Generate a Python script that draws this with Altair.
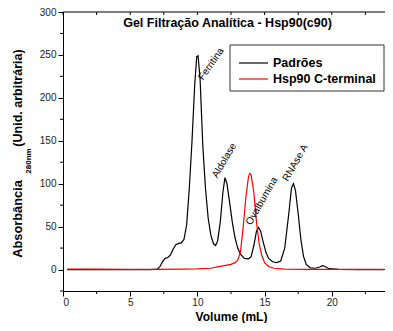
import altair as alt
import pandas as pd

FONT = "Liberation Sans"

# Padrões (standards) chromatogram
std_x = [0.3, 1, 3, 5, 6.5, 7.0, 7.2, 7.4, 7.6, 7.8, 8.0, 8.2, 8.4, 8.6, 8.8, 9.0, 9.2, 9.4, 9.6, 9.8,
         9.95, 10.05, 10.2, 10.4, 10.6, 10.8, 11.0, 11.2, 11.35, 11.5, 11.7, 11.9, 12.05, 12.2, 12.4,
         12.6, 12.8, 13.0, 13.2, 13.5, 13.8, 14.0, 14.2, 14.4, 14.55, 14.7, 14.9, 15.1, 15.3, 15.6,
         15.9, 16.2, 16.5, 16.8, 17.0, 17.15, 17.3, 17.5, 17.7, 17.9, 18.1, 18.4, 18.8, 19.1, 19.3,
         19.5, 19.8, 20.5, 22, 23.9]
std_y = [0, 0, 0, 0, 0, 0.5, 3, 9, 13, 14, 17, 24, 29, 30.5, 31, 35, 52, 95, 150, 215,
         248, 249, 222, 145, 95, 60, 40, 30, 28, 33, 55, 90, 107, 100, 78,
         55, 37, 25, 18, 13, 12.5, 15, 28, 45, 49, 45, 32, 20, 13, 9,
         8, 10, 25, 65, 95, 100, 92, 65, 35, 15, 6, 2, 1.5, 3, 4.5,
         3.5, 1, 0.3, 0, 0]

# Hsp90 C-terminal chromatogram
hsp_x = [0.3, 2, 5, 7, 9, 10, 11, 11.5, 12, 12.5, 12.8, 13.0, 13.2, 13.4, 13.6, 13.8, 13.9, 14.0,
         14.2, 14.4, 14.6, 14.8, 15.0, 15.3, 15.7, 16.5, 18, 20, 24.6]
hsp_y = [0.5, 0.5, 0.3, 0.3, 0.5, 0.8, 1.5, 3, 4.5, 6, 8, 11, 20, 48, 83, 108, 112, 110,
         90, 55, 30, 16, 8, 3.5, 1.5, 0.5, 0.3, 0.3, 0.3]

series_names = ["Padrões", "Hsp90 C-terminal"]
series_colors = ["#000000", "#ff0000"]

peak_names = ["Ferritina", "Aldolase", "Ovalbumina", "RNAse A"]
peak_x = [10.42, 11.48, 13.99, 16.72]
peak_y = [220, 106, 51, 102]
peak_angle = [305, 300, 300, 300]

x_major = [0, 5, 10, 15, 20]
x_minor = [2.5, 7.5, 12.5, 17.5, 22.5]
x_top = [0, 2.5, 5, 7.5, 10, 12.5, 15, 17.5, 20, 22.5]
y_major = [0, 50, 100, 150, 200, 250, 300]
y_minor = [-25, 25, 75, 125, 175, 225, 275]

title_text = "Gel Filtração Analítica - Hsp90(c90)"

W, H = 322, 279

xs = alt.Scale(domain=[0, 23.96], nice=False, zero=False)
ys = alt.Scale(domain=[-25, 300], nice=False, zero=False)

df_std = pd.DataFrame({"v": std_x, "a": std_y})
df_hsp = pd.DataFrame({"v": hsp_x, "a": hsp_y})
df_peaks = pd.DataFrame({"v": peak_x, "a": peak_y, "name": peak_names, "ang": peak_angle})

xaxis = alt.Axis(
    values=x_major, title="Volume (mL)", grid=False, labelOverlap=False, tickSize=5,
    labelPadding=1, titleY=29.5, titleBaseline="alphabetic", titleX=168, titleFontSize=12,
)
yaxis = alt.Axis(
    values=y_major, title=None, grid=False, labelOverlap=False, tickSize=5, labelPadding=2,
)

black = alt.Chart(df_std).mark_line(color=series_colors[0], strokeWidth=1.2, clip=True).encode(
    x=alt.X("v:Q", scale=xs, axis=xaxis),
    y=alt.Y("a:Q", scale=ys, axis=yaxis),
)
red = alt.Chart(df_hsp).mark_line(color=series_colors[1], strokeWidth=1.2, clip=True).encode(
    x=alt.X("v:Q", scale=xs),
    y=alt.Y("a:Q", scale=ys),
)

labels = alt.Chart(df_peaks).mark_text(
    align="left", baseline="alphabetic", fontSize=10, font=FONT, color="#000"
).encode(
    x=alt.X("v:Q", scale=xs), y=alt.Y("a:Q", scale=ys), text="name:N",
    angle=alt.Angle("ang:Q", scale=None),
)

top_ticks = alt.Chart(pd.DataFrame({"v": x_top})).mark_rule(color="#000", strokeWidth=1).encode(
    x=alt.X("v:Q", scale=xs), y=alt.value(0), y2=alt.value(3)
)
bottom_minor = alt.Chart(pd.DataFrame({"v": x_minor})).mark_rule(color="#000", strokeWidth=1).encode(
    x=alt.X("v:Q", scale=xs), y=alt.value(H), y2=alt.value(H + 3)
)
left_minor = alt.Chart(pd.DataFrame({"a": y_minor})).mark_rule(color="#000", strokeWidth=1).encode(
    y=alt.Y("a:Q", scale=ys), x=alt.value(-3), x2=alt.value(0)
)
top_spine = alt.Chart(pd.DataFrame({"v": [0]})).mark_rule(color="#000", strokeWidth=1).encode(
    x=alt.value(0), x2=alt.value(W), y=alt.value(0)
)

title = alt.Chart(pd.DataFrame({"t": [title_text]})).mark_text(
    fontSize=12.5, fontWeight="bold", font=FONT, align="center", baseline="middle", color="#000"
).encode(x=alt.value(164.5), y=alt.value(11), text="t:N")

ytitle_parts = ["Absorbância", "280nm", "(Unid. arbitrária)"]
ydf = pd.DataFrame({"t": ytitle_parts})
yt1 = alt.Chart(ydf).transform_filter(alt.datum.t == ytitle_parts[0]).mark_text(
    fontSize=12.8, fontWeight="bold", font=FONT, angle=270, align="center", baseline="middle", color="#000"
).encode(x=alt.value(-45), y=alt.value(207), text="t:N")
yt2 = alt.Chart(ydf).transform_filter(alt.datum.t == ytitle_parts[1]).mark_text(
    fontSize=8, fontWeight="bold", font=FONT, angle=270, align="center", baseline="middle", color="#000"
).encode(x=alt.value(-34), y=alt.value(149), text="t:N")
yt3 = alt.Chart(ydf).transform_filter(alt.datum.t == ytitle_parts[2]).mark_text(
    fontSize=12.5, fontWeight="bold", font=FONT, angle=270, align="center", baseline="middle", color="#000"
).encode(x=alt.value(-45), y=alt.value(86), text="t:N")

LX = 167
ldf = pd.DataFrame({"name": series_names, "color": series_colors})
leg_box = alt.Chart(ldf.head(1)).mark_rect(fill="white", stroke="#333", strokeWidth=1).encode(
    x=alt.value(LX), x2=alt.value(LX + 154), y=alt.value(33), y2=alt.value(79)
)
leg_layers = [leg_box]
for i, (nm, col) in enumerate(zip(series_names, series_colors)):
    yy = 51 + 16 * i
    sub = alt.Chart(ldf).transform_filter(alt.datum.name == nm)
    leg_layers.append(sub.mark_rule(color=col, strokeWidth=1.2).encode(
        x=alt.value(LX + 9), x2=alt.value(LX + 38), y=alt.value(yy)))
    leg_layers.append(sub.mark_text(
        align="left", baseline="middle", fontSize=12.5, fontWeight="bold", font=FONT, color="#000"
    ).encode(x=alt.value(LX + 43), y=alt.value(yy), text="name:N"))

chart = alt.layer(
    black, red, labels, top_ticks, bottom_minor, left_minor, top_spine, title, yt1, yt2, yt3, *leg_layers
).properties(
    width=W, height=H,
    autosize=alt.AutoSizeParams(type="none"),
    padding={"left": 55, "top": 4, "right": 0, "bottom": 32},
).configure_view(stroke="transparent").configure_axis(
    domainColor="#000", tickColor="#000", labelColor="#222", labelFont=FONT, labelFontSize=10,
    titleFont=FONT, titleFontSize=12.5, titleFontWeight="bold", titleColor="#000",
    domainWidth=1, tickWidth=1,
)

chart.save("out.html", embed_options={"renderer": "svg", "actions": False})
